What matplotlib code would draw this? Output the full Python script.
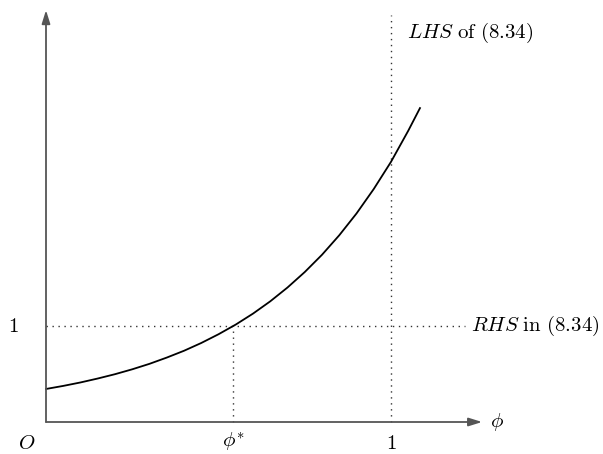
import matplotlib
matplotlib.use("Agg")
import matplotlib.pyplot as plt

plt.rcParams['mathtext.fontset'] = 'cm'
plt.rcParams['font.family'] = ['DejaVu Serif']

# LHS curve as a function of phi
phi = [0.0, 0.05, 0.10, 0.15, 0.20, 0.25, 0.30, 0.35, 0.40, 0.45, 0.50, 0.55,
       0.60, 0.65, 0.70, 0.75, 0.80, 0.85, 0.90, 0.95, 1.00, 1.05, 1.084]
lhs = [0.344, 0.376, 0.412, 0.453, 0.498, 0.549, 0.606, 0.671, 0.742, 0.823, 0.914, 1.015,
       1.129, 1.257, 1.401, 1.562, 1.742, 1.945, 2.172, 2.427, 2.71, 3.034, 3.27]

phi_star = 0.543
rhs_level = 1.0

fig = plt.figure(figsize=(6.03, 4.54), dpi=100)
ax = fig.add_axes([0, 0, 1, 1])
ax.set_xlim(-46 / 345, 557 / 345)
ax.set_ylim(-32 / 96, 422 / 96)
ax.axis('off')

axis_col = '#555555'
dot = (0, (1, 3.3))

# axes with arrow heads
ax.annotate('', xy=(1.264, 0), xytext=(0, 0),
            arrowprops=dict(arrowstyle='-|>,head_length=0.8,head_width=0.25',
                            color=axis_col, lw=1.3, shrinkA=0, shrinkB=0))
ax.annotate('', xy=(0, 4.29), xytext=(0, 0),
            arrowprops=dict(arrowstyle='-|>,head_length=0.8,head_width=0.25',
                            color=axis_col, lw=1.3, shrinkA=0, shrinkB=0))

# dotted guide lines
ax.plot([0, 1.215], [rhs_level, rhs_level], color='#333333', lw=1.0, linestyle=dot)
ax.plot([phi_star, phi_star], [0, rhs_level], color='#333333', lw=1.0, linestyle=dot)
ax.plot([1, 1], [0, 4.24], color='#333333', lw=1.0, linestyle=dot)

# the curve
ax.plot(phi, lhs, color='black', lw=1.3)

fs = 15
ax.text(1.046, 4.05, r'$LHS\ \mathrm{of\ (8.34)}$', fontsize=fs, ha='left', va='center')
ax.text(1.232, rhs_level, r'$RHS\ \mathrm{in\ (8.34)}$', fontsize=fs, ha='left', va='center')
ax.text(-0.096, rhs_level, r'$1$', fontsize=fs, ha='center', va='center')
ax.text(-0.055, -0.225, r'$O$', fontsize=fs, ha='center', va='center')
ax.text(phi_star, -0.2, r'$\phi^{*}$', fontsize=fs, ha='center', va='center')
ax.text(1.0, -0.22, r'$1$', fontsize=fs, ha='center', va='center')
ax.text(1.307, 0, r'$\phi$', fontsize=fs, ha='center', va='center')

fig.savefig('out.png', dpi=100)
